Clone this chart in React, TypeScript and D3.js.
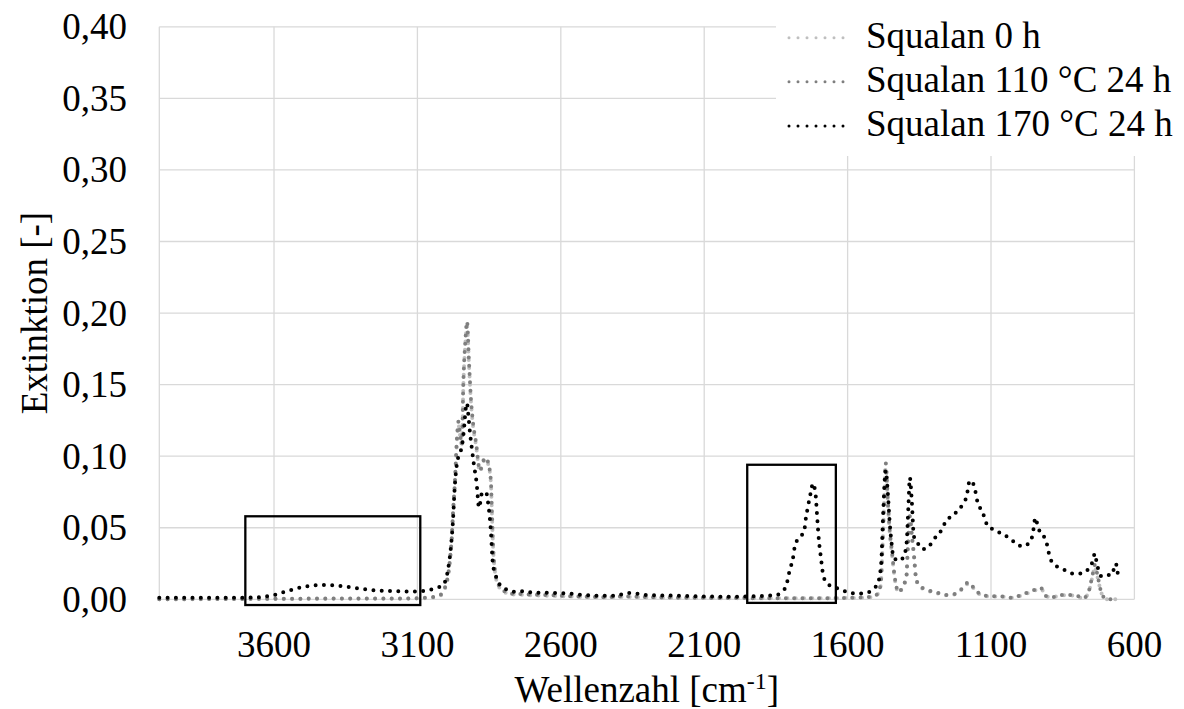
import React from "react";
import * as d3 from "d3";

// ---- data (wavenumber cm-1, extinction) ----
const seriesNames = ["Squalan 0 h", "Squalan 110 °C 24 h", "Squalan 170 °C 24 h"];

const squalan170: [number, number][] = [
  [4000, 0.001], [3800, 0.001], [3700, 0.0012], [3650, 0.0015], [3600, 0.003], [3550, 0.006],
  [3500, 0.0085], [3440, 0.01], [3380, 0.0095], [3320, 0.008], [3260, 0.0065], [3200, 0.0058],
  [3150, 0.0055], [3100, 0.0055], [3060, 0.0065], [3032, 0.008], [3011, 0.01], [2994, 0.02],
  [2983, 0.037], [2976, 0.055], [2970, 0.078], [2964, 0.092], [2958, 0.099], [2952, 0.102],
  [2944, 0.108], [2938, 0.118], [2931, 0.134], [2927, 0.137], [2923, 0.13], [2917, 0.117],
  [2910, 0.105], [2903, 0.094], [2894, 0.082], [2885, 0.064], [2875, 0.074], [2861, 0.075],
  [2854, 0.068], [2844, 0.048], [2837, 0.025], [2826, 0.016], [2812, 0.01], [2784, 0.0065],
  [2753, 0.005], [2725, 0.0058], [2697, 0.0045], [2640, 0.0045], [2580, 0.0042], [2520, 0.003],
  [2465, 0.0025], [2405, 0.0025], [2370, 0.0045], [2340, 0.004], [2300, 0.003], [2200, 0.0025],
  [2100, 0.002], [2000, 0.0018], [1940, 0.002], [1880, 0.0025], [1850, 0.003], [1836, 0.004],
  [1815, 0.009], [1801, 0.021], [1791, 0.028], [1784, 0.037], [1770, 0.043], [1752, 0.047],
  [1746, 0.056], [1739, 0.064], [1728, 0.075], [1721, 0.081], [1711, 0.072], [1707, 0.06],
  [1700, 0.041], [1693, 0.029], [1686, 0.018], [1672, 0.011], [1651, 0.009], [1620, 0.0065],
  [1592, 0.0045], [1565, 0.004], [1533, 0.0045], [1512, 0.007], [1495, 0.011], [1483, 0.025],
  [1476, 0.06], [1467, 0.09], [1460, 0.075], [1453, 0.053], [1446, 0.038], [1440, 0.029],
  [1418, 0.027], [1401, 0.032], [1394, 0.04], [1388, 0.065], [1383, 0.085], [1376, 0.068],
  [1369, 0.044], [1355, 0.039], [1338, 0.035], [1320, 0.036], [1303, 0.041], [1268, 0.05],
  [1254, 0.056], [1233, 0.058], [1217, 0.062], [1199, 0.066], [1185, 0.072], [1174, 0.083],
  [1160, 0.08], [1147, 0.068], [1133, 0.062], [1122, 0.057], [1112, 0.051], [1080, 0.048],
  [1059, 0.045], [1035, 0.043], [1014, 0.039], [990, 0.037], [969, 0.039], [955, 0.045],
  [945, 0.057], [938, 0.052], [927, 0.046], [913, 0.043], [903, 0.037], [896, 0.03],
  [882, 0.025], [861, 0.022], [837, 0.02], [815, 0.018], [787, 0.018], [766, 0.02],
  [745, 0.027], [738, 0.032], [731, 0.025], [714, 0.016], [697, 0.017], [679, 0.017],
  [665, 0.025], [658, 0.018],
];

const squalan110: [number, number][] = [
  [4000, 0.0], [3700, 0.0003], [3400, 0.0005], [3200, 0.0005], [3100, 0.0008], [3050, 0.0015],
  [3021, 0.003], [2997, 0.013], [2987, 0.027], [2980, 0.044], [2976, 0.06], [2969, 0.083],
  [2962, 0.113], [2957, 0.124], [2951, 0.115], [2945, 0.108], [2940, 0.15], [2933, 0.18],
  [2927, 0.194], [2920, 0.165], [2913, 0.139], [2906, 0.123], [2896, 0.11], [2882, 0.09],
  [2872, 0.096], [2862, 0.099], [2854, 0.096], [2844, 0.083], [2840, 0.06], [2836, 0.037],
  [2830, 0.021], [2819, 0.011], [2802, 0.0065], [2777, 0.004], [2720, 0.0035], [2650, 0.003],
  [2550, 0.002], [2450, 0.0015], [2370, 0.002], [2300, 0.0015], [2100, 0.001], [1900, 0.0008],
  [1700, 0.0008], [1600, 0.001], [1530, 0.0015], [1500, 0.003], [1485, 0.01], [1476, 0.05],
  [1467, 0.095], [1460, 0.07], [1453, 0.048], [1446, 0.035], [1436, 0.016], [1422, 0.005],
  [1408, 0.009], [1395, 0.016], [1390, 0.037], [1383, 0.058], [1376, 0.045], [1369, 0.032],
  [1362, 0.016], [1352, 0.01], [1320, 0.0065], [1285, 0.0045], [1260, 0.003], [1225, 0.0037],
  [1198, 0.008], [1178, 0.012], [1160, 0.008], [1133, 0.003], [1105, 0.0023], [1059, 0.002],
  [1025, 0.001], [990, 0.0035], [955, 0.006], [927, 0.008], [906, 0.002], [885, 0.0015],
  [861, 0.003], [837, 0.003], [801, 0.0025], [780, 0.0005], [762, 0.004], [745, 0.018],
  [738, 0.024], [728, 0.016], [714, 0.004], [697, 0.0], [660, 0.0],
];

const squalan0: [number, number][] = [
  [4000, 0.0], [3700, 0.0002], [3400, 0.0003], [3200, 0.0004], [3100, 0.0006], [3050, 0.0012],
  [3021, 0.0025], [2997, 0.012], [2987, 0.026], [2980, 0.043], [2976, 0.059], [2969, 0.082],
  [2962, 0.111], [2957, 0.122], [2951, 0.114], [2945, 0.107], [2940, 0.148], [2933, 0.178],
  [2927, 0.191], [2920, 0.163], [2913, 0.137], [2906, 0.121], [2896, 0.108], [2882, 0.089],
  [2872, 0.095], [2862, 0.098], [2854, 0.095], [2844, 0.082], [2840, 0.059], [2836, 0.036],
  [2830, 0.02], [2819, 0.01], [2802, 0.006], [2777, 0.0035], [2720, 0.003], [2650, 0.0025],
  [2550, 0.0018], [2450, 0.0013], [2370, 0.0017], [2300, 0.0013], [2100, 0.0009], [1900, 0.0007],
  [1700, 0.0007], [1600, 0.0009], [1530, 0.0013], [1500, 0.0028], [1485, 0.009], [1476, 0.048],
  [1467, 0.092], [1460, 0.068], [1453, 0.046], [1446, 0.033], [1436, 0.015], [1422, 0.0045],
  [1408, 0.0085], [1395, 0.015], [1390, 0.035], [1383, 0.055], [1376, 0.043], [1369, 0.03],
  [1362, 0.015], [1352, 0.0095], [1320, 0.006], [1285, 0.004], [1260, 0.0028], [1225, 0.0035],
  [1198, 0.0075], [1178, 0.011], [1160, 0.0075], [1133, 0.0028], [1105, 0.002], [1059, 0.0018],
  [1025, 0.001], [990, 0.003], [955, 0.0055], [927, 0.0075], [906, 0.002], [885, 0.0014],
  [861, 0.0028], [837, 0.0028], [801, 0.0023], [780, 0.0005], [762, 0.0038], [745, 0.017],
  [738, 0.023], [728, 0.015], [714, 0.0038], [697, 0.0], [660, 0.0],
];

const xTicks = [3600, 3100, 2600, 2100, 1600, 1100, 600];
const yTicks = [0, 0.05, 0.1, 0.15, 0.2, 0.25, 0.3, 0.35, 0.4];

// highlight boxes [wStart, wEnd, vLow, vHigh]
const boxes: [number, number, number, number][] = [
  [3700, 3090, -0.004, 0.058],
  [1950, 1641, -0.0025, 0.094],
];

const colors = ["#bfbfbf", "#7f7f7f", "#000000"];
const allSeries = [squalan0, squalan110, squalan170];

function T(props: any) {
  const { children, size, ...rest } = props;
  return (
    <text {...rest} style={{ fontFamily: '"Liberation Serif"', fontSize: `${size || 37}px` }}>
      {children}
    </text>
  );
}

export default function App() {
  const W = 1184, H = 709;
  const x = d3.scaleLinear().domain([4000, 600]).range([159.3, 1134.4]);
  const y = d3.scaleLinear().domain([0, 0.4]).range([599.3, 26.8]);
  const line = d3
    .line<[number, number]>()
    .x((d) => x(d[0]))
    .y((d) => y(d[1]))
    .curve(d3.curveMonotoneX);
  const fmt = (v: number) => d3.format(".2f")(v).replace(".", ",");
  const legendY = [37.7, 81.7, 126];

  return (
    <svg width={W} height={H} style={{ position: "absolute", left: 0, top: 0 }}>
      <rect x={0} y={0} width={W} height={H} fill="#fff" />
      {/* gridlines */}
      <g stroke="#d9d9d9" strokeWidth={1.3}>
        {yTicks.map((t) => (
          <line key={"gy" + t} x1={x(4000)} x2={x(600)} y1={y(t)} y2={y(t)} />
        ))}
        {[4000, ...xTicks].map((t) => (
          <line key={"gx" + t} x1={x(t)} x2={x(t)} y1={y(0)} y2={y(0.4)} />
        ))}
      </g>
      {/* y tick labels */}
      {yTicks.map((t) => (
        <T key={"yl" + t} x={127} y={y(t) + 12.5} textAnchor="end">
          {fmt(t)}
        </T>
      ))}
      {/* x tick labels */}
      {xTicks.map((t) => (
        <T key={"xl" + t} x={x(t)} y={656.5} textAnchor="middle">
          {String(t)}
        </T>
      ))}
      {/* axis titles */}
      <T x={(x(4000) + x(600)) / 2} y={701.5} textAnchor="middle">
        <tspan>Wellenzahl [cm</tspan>
        <tspan fontSize={24} dy={-13}>-1</tspan>
        <tspan dy={13}>]</tspan>
      </T>
      <T transform={`translate(46.5, ${(y(0) + y(0.4)) / 2}) rotate(-90)`} textAnchor="middle">
        Extinktion [-]
      </T>
      {/* series */}
      {allSeries.map((s, i) => (
        <path
          key={"s" + i}
          d={line(s) || ""}
          fill="none"
          stroke={colors[i]}
          strokeWidth={4}
          strokeLinecap="round"
          strokeDasharray="0 8.3"
        />
      ))}
      {/* boxes */}
      {boxes.map((b, i) => (
        <rect
          key={"b" + i}
          x={x(b[0])}
          y={y(b[3])}
          width={x(b[1]) - x(b[0])}
          height={y(b[2]) - y(b[3])}
          fill="none"
          stroke="#000"
          strokeWidth={2.3}
        />
      ))}
      {/* legend */}
      <rect x={776} y={0} width={W - 776} height={156} fill="#fff" />
      {seriesNames.map((n, i) => (
        <g key={"lg" + i}>
          <line
            x1={789}
            x2={852}
            y1={legendY[i]}
            y2={legendY[i]}
            stroke={colors[i]}
            strokeWidth={3}
            strokeLinecap="round"
            strokeDasharray="0 9"
          />
          <T x={866} y={legendY[i] + 10}>
            {n}
          </T>
        </g>
      ))}
    </svg>
  );
}
